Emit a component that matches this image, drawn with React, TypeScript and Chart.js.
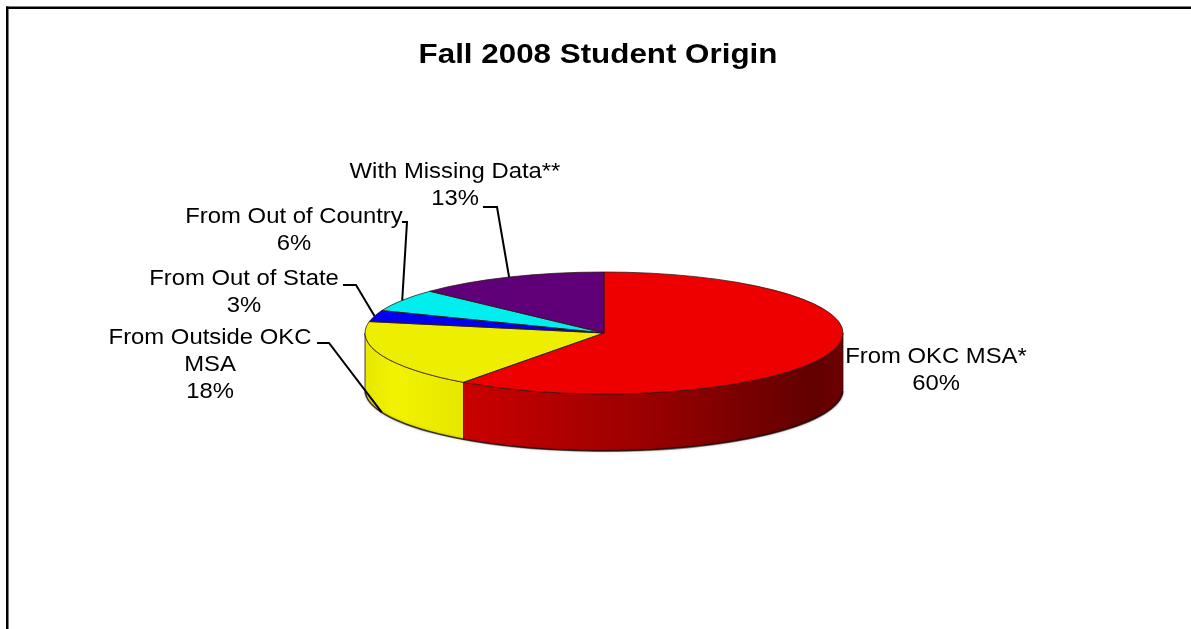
import React, { useEffect, useRef } from "react";
import { Chart, registerables } from "chart.js";

Chart.register(...registerables);

// ---------- data ----------
const chartTitle = "Fall 2008 Student Origin";
const categories = [
  "From OKC MSA*",
  "From Outside OKC MSA",
  "From Out of State",
  "From Out of Country",
  "With Missing Data**",
];
const percentValues = [60, 18, 3, 6, 13];

// ---------- style / layout ----------
const sliceColors = ["#EE0000", "#EEEE00", "#0000EE", "#00EEEE", "#600078"];
const W = 1191;
const H = 629;
const PIE = { cx: 604, cy: 333, rx: 239, ry: 61, depth: 57 };
const FONT = '"Liberation Sans", Arial, sans-serif';
const TEXT_STRETCH = 1.1;
const LABEL_SIZE = 21.7;
const LINE_GAP = 27;
const WRAP_WIDTH = 235;
const sideShades: number[][][] = [
  [[0, 0.85], [0.5, 0.64], [0.92, 0.41], [1, 0.46]],
  [[0, 0.97], [0.3, 1.015], [1, 0.97]],
  [[0, 0.9], [1, 0.7]],
  [[0, 0.9], [1, 0.7]],
  [[0, 0.9], [1, 0.7]],
];
// text centre x, first baseline y, leader line (text side -> elbow), then to slice anchor
const labelLayout: { x: number; y: number; leader: number[][] | null }[] = [
  { x: 936, y: 363, leader: null },
  { x: 210, y: 344, leader: [[317, 343], [329, 343]] },
  { x: 244, y: 285, leader: [[343, 285], [356, 285]] },
  { x: 294, y: 223, leader: [[402, 222], [407, 222]] },
  { x: 455, y: 178, leader: [[483, 207], [497, 207]] },
];

function shade(hex: string, f: number) {
  const n = parseInt(hex.slice(1), 16);
  const c = [(n >> 16) & 255, (n >> 8) & 255, n & 255].map((v) =>
    Math.max(0, Math.min(255, Math.round(v * f)))
  );
  return `rgb(${c[0]},${c[1]},${c[2]})`;
}

function stretchedText(ctx: CanvasRenderingContext2D, text: string, x: number, y: number) {
  ctx.save();
  ctx.translate(x, y);
  ctx.scale(TEXT_STRETCH, 1);
  ctx.fillText(text, 0, 0);
  ctx.restore();
}

function wrap(ctx: CanvasRenderingContext2D, text: string, maxW: number) {
  const words = text.split(" ");
  const lines: string[] = [];
  let cur = "";
  for (const w of words) {
    const test = cur ? cur + " " + w : w;
    if (cur && ctx.measureText(test).width * TEXT_STRETCH > maxW) {
      lines.push(cur);
      cur = w;
    } else cur = test;
  }
  if (cur) lines.push(cur);
  return lines;
}

const pie3d = {
  id: "pie3d",
  beforeDatasetsDraw(chart: any) {
    const ctx: CanvasRenderingContext2D = chart.ctx;
    const arcs = chart.getDatasetMeta(0).data as any[];
    const { cx, cy, rx, ry, depth } = PIE;
    // side walls of the front half
    arcs.forEach((arc, i) => {
      const a0 = Math.max(arc.startAngle, 0);
      const a1 = Math.min(arc.endAngle, Math.PI);
      if (a1 <= a0) return;
      const xs = [cx + rx * Math.cos(a0), cx + rx * Math.cos(a1)];
      let xmin = Math.min(...xs);
      let xmax = Math.max(...xs);
      if (a0 <= Math.PI && a1 >= Math.PI) xmin = cx - rx;
      if (a0 <= 0) xmax = Math.max(xmax, cx + rx);
      const g = ctx.createLinearGradient(xmin, 0, xmax, 0);
      (sideShades[i] || [[0, 0.9], [1, 0.7]]).forEach(([t, f]) =>
        g.addColorStop(t, shade(sliceColors[i], f))
      );
      ctx.beginPath();
      ctx.ellipse(cx, cy, rx, ry, 0, a0, a1, false);
      ctx.lineTo(cx + rx * Math.cos(a1), cy + depth + ry * Math.sin(a1));
      ctx.ellipse(cx, cy + depth, rx, ry, 0, a1, a0, true);
      ctx.closePath();
      ctx.fillStyle = g;
      ctx.fill();
      ctx.strokeStyle = "rgba(45,20,20,0.8)";
      ctx.lineWidth = 1;
      ctx.stroke();
    });
    // soft bottom edge
    ctx.save();
    ctx.beginPath();
    ctx.ellipse(cx, cy + depth, rx, ry, 0, 0.02, Math.PI - 0.02, false);
    ctx.strokeStyle = "rgba(0,0,0,0.45)";
    ctx.lineWidth = 2;
    ctx.shadowColor = "rgba(0,0,0,0.4)";
    ctx.shadowBlur = 3;
    ctx.stroke();
    ctx.restore();
    // map the library's circular pie onto the tilted ellipse
    const a = arcs[0];
    ctx.save();
    ctx.translate(cx, cy);
    ctx.scale(rx / a.outerRadius, ry / a.outerRadius);
    ctx.translate(-a.x, -a.y);
  },
  afterDatasetsDraw(chart: any) {
    const ctx: CanvasRenderingContext2D = chart.ctx;
    ctx.restore();
    const arcs = chart.getDatasetMeta(0).data as any[];
    const { cx, cy, rx, ry, depth } = PIE;
    // slice outlines on top face
    arcs.forEach((arc) => {
      ctx.beginPath();
      ctx.moveTo(cx, cy);
      ctx.lineTo(cx + rx * Math.cos(arc.startAngle), cy + ry * Math.sin(arc.startAngle));
      ctx.ellipse(cx, cy, rx, ry, 0, arc.startAngle, arc.endAngle, false);
      ctx.closePath();
      ctx.strokeStyle = "rgba(45,20,20,0.75)";
      ctx.lineWidth = 1;
      ctx.stroke();
    });
    // data labels with leader lines
    ctx.fillStyle = "#000";
    ctx.font = `${LABEL_SIZE}px ${FONT}`;
    ctx.textAlign = "center";
    ctx.textBaseline = "alphabetic";
    arcs.forEach((arc, i) => {
      const lay = labelLayout[i];
      const lines = [...wrap(ctx, categories[i], WRAP_WIDTH), `${percentValues[i]}%`];
      lines.forEach((ln, k) => stretchedText(ctx, ln, lay.x, lay.y + k * LINE_GAP));
      if (lay.leader) {
        const mid = (arc.startAngle + arc.endAngle) / 2;
        const s = Math.sin(mid);
        const ax = cx + rx * Math.cos(mid);
        const ay = cy + ry * s + (s > 0 ? depth : 0);
        ctx.beginPath();
        ctx.moveTo(lay.leader[0][0], lay.leader[0][1]);
        ctx.lineTo(lay.leader[1][0], lay.leader[1][1]);
        ctx.lineTo(ax, ay);
        ctx.strokeStyle = "#000";
        ctx.lineWidth = 2;
        ctx.stroke();
      }
    });
  },
  afterDraw(chart: any) {
    const ctx: CanvasRenderingContext2D = chart.ctx;
    ctx.save();
    ctx.fillStyle = "#000";
    ctx.font = `bold 28.5px ${FONT}`;
    ctx.textAlign = "center";
    ctx.textBaseline = "alphabetic";
    stretchedText(ctx, chartTitle, 598, 63);
    // frame
    ctx.fillStyle = "#000";
    ctx.fillRect(6, 6.5, W - 6, 2.5);
    ctx.fillRect(6, 6.5, 2.5, H - 6);
    ctx.restore();
  },
};

export default function App() {
  const ref = useRef<HTMLCanvasElement>(null);
  useEffect(() => {
    if (!ref.current) return;
    const chart = new Chart(ref.current, {
      type: "pie",
      data: {
        labels: categories,
        datasets: [
          {
            data: percentValues,
            backgroundColor: sliceColors,
            borderWidth: 0,
          },
        ],
      },
      options: {
        responsive: false,
        animation: false,
        devicePixelRatio: 1,
        events: [],
        layout: { padding: { left: 100, right: 100, top: 40, bottom: 40 } },
        plugins: {
          legend: { display: false },
          tooltip: { enabled: false },
          title: { display: false },
        },
      },
      plugins: [pie3d],
    });
    return () => chart.destroy();
  }, []);
  return (
    <div style={{ position: "absolute", left: 0, top: 0, width: W, height: H, background: "#fff" }}>
      <canvas ref={ref} width={W} height={H} style={{ display: "block" }} />
    </div>
  );
}
